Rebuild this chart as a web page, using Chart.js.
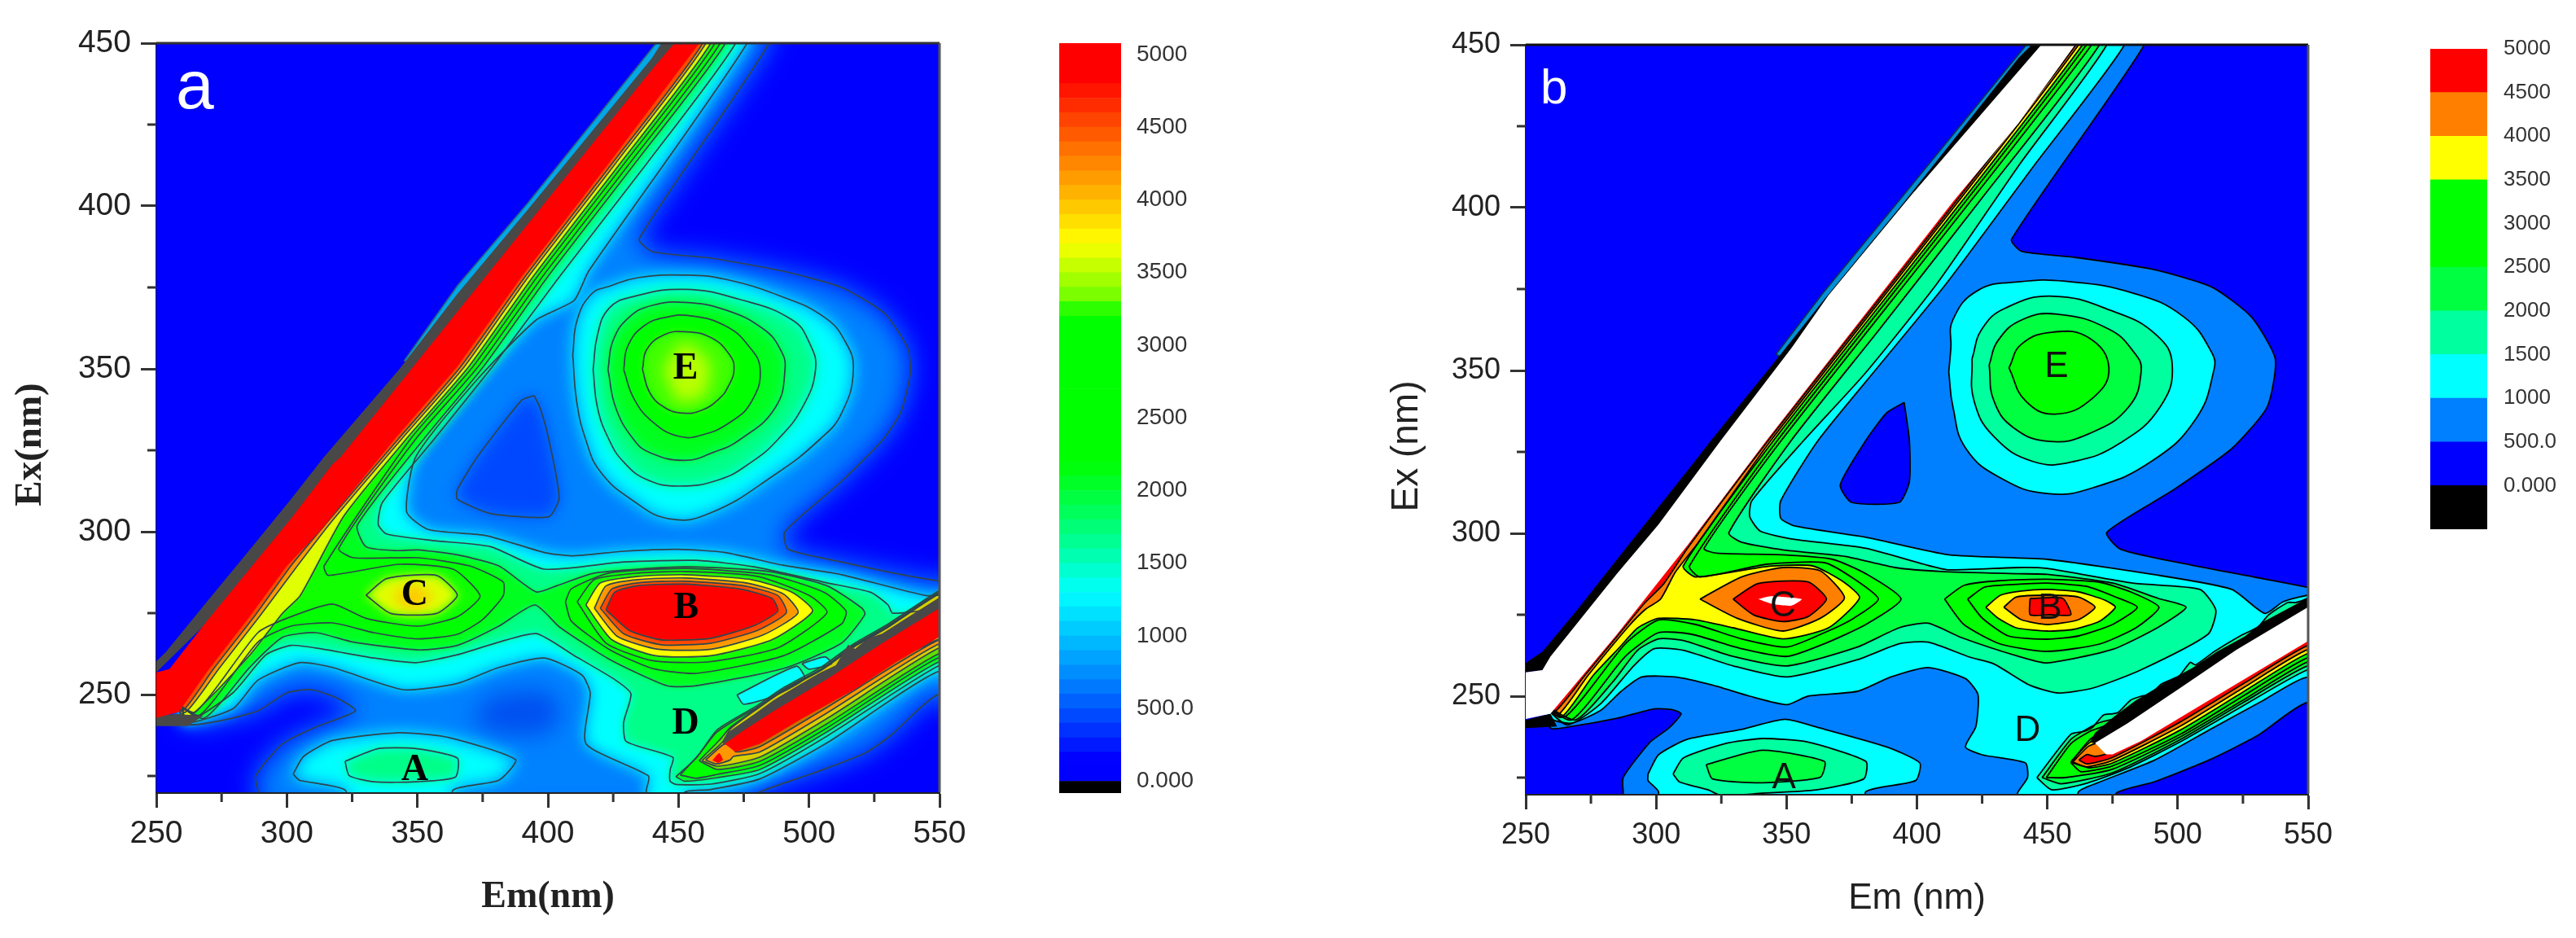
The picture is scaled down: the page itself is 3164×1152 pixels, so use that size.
<!DOCTYPE html>
<html><head><meta charset="utf-8">
<style>
html,body{margin:0;padding:0;background:#fff;width:3164px;height:1152px;overflow:hidden}
canvas{position:absolute;top:0;filter:blur(.7px)}
</style>
<script src="https://cdn.jsdelivr.net/npm/chart.js@4"></script>
</head><body>
<canvas id="pa" width="1200" height="1152" style="left:0"></canvas>
<canvas id="ca" width="220" height="1152" style="left:1280px"></canvas>
<canvas id="pb" width="1220" height="1152" style="left:1680px"></canvas>
<canvas id="cb" width="200" height="1152" style="left:2964px"></canvas>
<script>
/* axes */
const xTickValues=[250,300,350,400,450,500,550];
const yTickValues=[250,300,350,400,450];
const xMinorTicks=[275,325,375,425,475,525];
const yMinorTicks=[225,275,325,375,425];
const barTickValues=[0,500,1000,1500,2000,2500,3000,3500,4000,4500,5000];
const barTickLabels=['0.000','500.0','1000','1500','2000','2500','3000','3500','4000','4500','5000'];
const letterLabels=['A','B','C','D','E'];
const aLetterPos=[[349,226.8],[453,276.5],[349,280.5],[452.7,241],[452.7,350]];
const bLetterPos=[[349,224.7],[451,276.7],[348.6,277.5],[442.4,239.3],[453.5,351]];
const spineUp=[[256,250],[305,300],[356,350],[403,400],[453,450],[453,460]];
const spineRight=[[260,250],[309,300],[360,350],[407,400],[456,450],[456,460]];

/* panel a contours: [Em, Ex] */
const aL500=[[484.7,460],[484.7,450],[435,390],[440,386],[462.4,384],[490,380],[512.5,375],[529,367],[538,356],[538.7,348],[535,336.4],[528,328],[512.5,315.5],[490.8,300],[492,294.6],[512.5,290.7],[532.5,287.3],[550.4,284.8],[560,284],[560,244],[549.3,249.9],[531.4,237.5],[521.4,232],[501.4,225.8],[481,220],[470,214],[288.9,214],[288.9,220.7],[288,225],[298.4,234.9],[311,240],[326.3,245],[319,249],[309.5,251.5],[300,250.5],[288.9,245],[273,241.7],[262,241]];
const aHole500=[[394.7,341.8],[390,340.4],[373,323],[365.3,312.9],[365.3,310],[378,305.6],[400.3,304.6],[404.3,310.5],[400.3,328.5],[397,338]];
const aValley=[[370,243],[380,250],[400,251],[405,245],[400,238],[380,238]];
const aL1000=[[476.3,460],[476.3,450],[415.6,380],[410,371],[395.5,365],[373.2,347],[349.4,323],[345.9,306.1],[354.1,300.7],[376.4,298.8],[398.7,293.6],[409,292.6],[429,294],[450,294.6],[468,293.6],[490,289.7],[512.5,286.8],[544.8,280.4],[560,280],[560,252],[549.3,257],[507.2,235.3],[481.2,224.1],[462,220.8],[452.4,220],[452.4,214],[437.7,214],[437.7,220.7],[438.5,225],[414.6,234.9],[416.2,250.5],[413,256],[398.7,261.2],[381.2,258.3],[365.3,253.4],[344.6,251.5],[317.5,258.3],[304.8,259.8],[288.9,254.4],[279.3,245.6],[260,241.2]];
const aL1500=[[471.9,460],[471.9,450],[438,413.2],[404.5,378.4],[380,352],[356.5,328.5],[336.6,309],[335,302.2],[338.2,299.3],[355.7,297.3],[378,295.4],[398.7,288.5],[429,290.7],[456.8,291.2],[479,289.2],[506.9,284.3],[523.6,281.4],[530.3,277.5],[532,275],[545,276],[560,279],[560,259],[549.3,258.7],[507.2,237.4],[481.2,225.75],[462.4,222.5],[449,222.4],[446.8,223.4],[446.8,226.8],[447.9,230.7],[430,235.6],[429,241.4],[431.8,250.2],[425.6,254.6],[410,262],[395.6,268.7],[381.2,266.1],[365.3,262.2],[349.4,259.8],[333.4,261.2],[312.7,264.1],[301.6,265.1],[292,262.2],[279.3,250.5],[261.8,241.7]];
const aPocket1=[[472.4,249.9],[495.2,258.7],[498.3,254.9],[486.4,249.5],[475,247]];
const aPocket2=[[497.3,259.5],[506.1,261.6],[508.7,259.5],[499.9,257.8]];
const aL2000=[[468,460],[468,450],[433.4,413.2],[400,378.4],[375.3,350.7],[352.5,328.5],[327,302],[330.3,295.4],[341.4,294.2],[350.2,294.4],[365.3,292.9],[381.2,289.5],[395.5,281.5],[403.4,283.4],[417.8,287.3],[452.4,289.2],[484.7,287.8],[506.9,283.4],[520.3,276.5],[521.4,274.6],[512.5,265.8],[490.2,258],[456.8,252.7],[445.7,252.7],[423.4,260.9],[404.5,270.7],[395,277.5],[381.2,271],[365.3,265.1],[350.2,263.7],[325.5,266.1],[311.1,269],[298.4,267.6],[285.7,258.3],[268.2,242.7]];
const aL2500=[[466,460],[466,450],[431.4,413.2],[398,378.4],[373.3,350.7],[349.4,328.5],[319.9,294.9],[325.5,292],[350.2,292],[370,289.5],[382.8,284.6],[382.8,280.2],[374.8,272.9],[365.3,268.5],[350.2,267.1],[333.4,269],[317.5,272],[301.6,271],[288.9,266.1],[266.6,243.7]];
const aL2500B=[[406.7,278.5],[408.9,282.4],[423.4,287.3],[452.4,288.7],[484.7,286.8],[505.8,281.4],[514.2,275.6],[512.5,271.7],[490.2,261.9],[456.8,256.5],[440.1,258],[423.4,263.9],[408.9,272.6]];
const aL3000=[[464,460],[464,450],[429.4,413.2],[396,378.4],[371.3,350.7],[347.4,328.5],[314.3,289.5],[315.9,286.6],[343,290],[363.7,288.5],[374,280.2],[365.3,273.9],[350.2,271],[330.3,273.4],[317.5,277.8],[301.6,273.9],[288.9,269],[265,244.6]];
const aL3000B=[[411.2,278.5],[417.8,285.3],[434.5,287.3],[452.4,287.8],[480.2,286.3],[500.2,280.4],[506.9,275.1],[488,264.3],[461.3,260],[440.1,260.4],[422.3,265.8]];
const aL3500=[[462.4,460],[462.4,450],[427.8,413.2],[394.4,378.4],[369.7,350.7],[345.8,328.5],[322,305],[308.8,285.6],[304.8,280],[298.4,275],[285.7,262],[262,243]];
const aL3500C=[[330.3,280.5],[338.2,285.6],[357.3,286.6],[365.3,280.5],[357.3,274.9],[339.8,274.9]];
const aL3500B=[[414.5,277.5],[420.1,284.3],[434.5,286.3],[452.4,286.8],[478,285.3],[493.6,281.4],[501.4,275.6],[485.8,266.8],[462.4,261.9],[441.2,261.9],[424.5,266.8]];
const aL4000=[[460.5,460],[460.5,450],[426,413.2],[392.6,378.4],[368,350.7],[344,328.5],[317,303],[304,289.5],[290,274.5],[274,258],[261,244.5]];
const aL4000B=[[417.8,276.5],[422.3,283.4],[434.5,285.3],[452.4,285.8],[475.7,284.3],[490.2,280.9],[495.8,275.1],[482.4,268.3],[462.4,263.9],[442.3,263.9],[426.7,267.8]];
const aL4500=[[459.3,460],[459.3,450],[424.7,413.2],[391.3,378.4],[366.6,350.7],[342.7,328.5],[315,302.5],[302,290],[288,274.5],[272,258],[260,245]];
const aL4500B=[[420.1,276.5],[424.5,282.4],[434.5,284.3],[452.4,284.8],[474.6,283.4],[488,280.4],[491.3,275.1],[480.2,269.7],[462.4,265.8],[443.5,265.3],[429,268.7]];
const aL5000B=[[422.3,276],[425.6,281.4],[434.5,283.4],[452.4,283.9],[473.5,282.4],[485.8,279.5],[488,275.6],[479,271.2],[462.4,267.3],[443.5,266.8],[431.2,269.7]];
const aPeakC=[[340,280],[348,284],[356,280],[348,276]];
const aPeakE=[[444,350],[452,358],[462,352],[460,342],[450,340]];
const aE1=[[409.5,354.3],[411.2,365],[416.7,373],[423.4,375.3],[434.5,378],[452.4,378.8],[468,377.5],[490.2,372],[505.8,365.9],[513.6,358.8],[517,349.8],[512.5,336.4],[504,328.25],[486.9,317.5],[462.4,305.8],[446.8,303.9],[432.3,309.7],[420,318.5],[414.5,328.25],[411,340]];
const aE2=[[417.3,349.8],[419,360.5],[423.4,368.6],[432.3,372.1],[452.4,374.4],[473.5,371.3],[493.6,365],[500.2,357.9],[502.5,349.8],[497.5,338.2],[488,328.25],[478,321.4],[465.7,316],[450.1,314],[437.9,316],[429,321.4],[423.4,328.25],[419,338]];
const aE3=[[423,349.8],[425,358.8],[431.2,365.9],[440,369.5],[452.4,370.4],[468,368.1],[482.4,362.3],[489,356],[490.8,349.8],[487,338],[473.5,328.25],[463.5,324.4],[452.4,321.9],[439,324.3],[432.9,328.25],[426,338]];
const aE4=[[429,349.8],[430.6,357],[436.8,363.2],[445.7,365.9],[454.6,366.3],[468,363.2],[476.9,357],[481.3,349.8],[478,340],[470.2,333.8],[459,329.7],[450.1,329.3],[440,333.8],[432.9,340.9]];
const aE5=[[436.2,349.8],[437.9,356],[444.6,360.5],[452.4,361.4],[462.4,359.6],[469.6,354.3],[471.3,349.8],[469,344.5],[465.7,340.9],[459,337.3],[451.8,336.4],[444.6,338.2],[439,342.7]];
const aA1=[[302.4,225.6],[306.4,231],[317.5,235.9],[343,238.3],[362.1,236.8],[387.6,230],[381.2,223.7],[363.7,220.7],[362,212],[325.5,212],[322.3,220.7],[304.8,223.7]];
const aA2=[[322.3,229.5],[335,233.4],[349.4,233.4],[365.3,230.5],[364.5,224.6],[349.4,223.2],[333.4,223.2],[323.9,225.1]];
const aS2000=[[449,224.8],[456.8,230.5],[464.6,239],[473.9,243.7],[480.1,246.6],[490,252],[505,258.6],[517,265.5],[530,271.5],[549,281.5],[560,286],[560,259],[549.3,259.9],[507.2,238.7],[481.2,227],[465,224.5],[452.4,223.4]];
const aS2500=[[450.7,225.3],[457.9,231.7],[464.6,238.4],[473.9,243.2],[480,246],[490,251.5],[505,258],[517,265],[530,271],[549,281],[560,285],[560,260],[549.3,261.2],[507.2,239.9],[481.2,228.25],[465,225.5],[456.8,224.3]];
const aS3000=[[457.9,229.7],[465.7,236],[470,240],[480,245.8],[490,251.2],[505,257.8],[517,264.7],[530,270.7],[549,280.7],[560,284],[560,262],[549.3,262.4],[507.2,241.2],[481.2,229.5],[465,227]];
const aS3500=[[459,229.7],[467,235.5],[470,239.5],[480,245.5],[490,251],[505,257.6],[517,264.5],[530,270.5],[549,280.5],[560,283],[560,264],[549.3,264.1],[507.2,242.8],[481.2,230.8],[465,228]];
const aS4000=[[460.4,229.9],[466.1,234],[470,236],[500,250],[560,270],[560,265],[549.3,265.35],[507.2,244.5],[481.2,232.4],[471,231],[469.8,229.9],[464.6,228.7]];
const aS4500=[[470,235],[500,249],[560,270],[560,266],[549.3,266.6],[507.2,246.2],[481.2,234],[472,232.4]];
const aS5000=[[463,229.8],[465.6,232],[467,230],[465.2,229]];
const aHalo=[[441.5,460],[441.5,450],[392.4,401],[365.3,375.5],[345,352.5],[352,350],[453,450],[453,460]];
const aGray=[[443.5,460],[443.5,450],[439.8,445.4],[392.4,399],[365.3,373],[343,349.8],[314.3,323],[301.6,310],[285.7,294.4],[269.7,278.8],[253.8,263.2],[250,260.2],[240,258],[240,256.8],[250,256.8],[305,300],[356,350],[403,400],[453,450],[453,460]];
const aGrayFoot=[[240,243],[258,244],[268,243.5],[262,240.3],[240,240.3]];
const aRed=[[448.5,460],[448.5,450],[439.8,441.8],[320.7,323],[317.5,320.7],[301.6,304],[285.7,288.5],[269.7,272.9],[255,257.8],[250,256.8],[240,256.8],[240,242.9],[250,242.9],[258.6,244.6],[269.7,257.3],[285.7,273.9],[300,289.5],[312.7,300.2],[341.4,328.5],[365.3,350.7],[390,378.4],[423.4,413.2],[458,450],[458,460]];
const aGraySecond=[[466.6,235.3],[468.7,238.25],[479.1,244],[486.4,248.25],[496.8,253.25],[504,256.6],[510.3,259],[515,265.3],[517.6,264],[522.8,267.4],[528,268.7],[538.4,274],[549.3,279.5],[560,285],[560,272],[549.3,272],[500,248],[467.7,234.5]];
const aRedSecond=[[467.7,234.9],[475,239],[486.4,244.9],[507.2,254.9],[528,265.75],[549.3,276.2],[560,282],[560,272],[549.3,267.4],[533.2,259.9],[517.6,251.6],[496.8,242.4],[481.2,234.9],[471.8,232.4]];

/* panel b contours */
const bL500=[[487.2,460],[487.2,450],[436.3,390.3],[440.1,386.6],[459.9,384.8],[490.3,381.1],[513.1,375.6],[528.3,366.4],[537.4,353.5],[534.3,338.8],[520.7,326],[497.9,313.1],[472.8,300.3],[478.1,295.1],[505.4,290.2],[529.8,286.5],[550,283.4],[560,282],[560,242],[549.5,248],[530.8,238],[512,230.4],[491.2,223.75],[476.7,220.4],[472,214],[287.4,214],[287.4,220],[287.4,225.1],[297.7,235.9],[304.9,240.2],[309.6,244.6],[306.5,245.8],[299.3,246.1],[285,243.2],[267.5,240.7],[259.5,240.2]];
const bHole500=[[395.1,340.2],[388.4,337],[380.4,328.5],[370.6,314.9],[374.9,309.5],[393.2,309.5],[397.1,315.9],[397.1,328.5]];
const bL1000=[[479.6,460],[479.6,450],[445,413],[411.4,376.8],[385,351],[362.1,328.5],[347.8,310],[347.8,304.6],[353.4,302.2],[380.4,298.8],[412.2,293.4],[450,292],[490.3,287.4],[520.7,282.8],[533.4,275.4],[540.4,279],[550,281],[560,281],[560,250],[549.5,255.8],[532.9,248.75],[512,239.6],[491.2,230.4],[470.4,223.75],[462.1,220.8],[459,214],[438,214],[438.6,220.3],[442.4,225],[441.6,229.5],[425,232],[418.6,234.4],[422.6,240.7],[423.4,250.5],[418.6,255.4],[404.3,258.8],[390,255.9],[377.2,251.5],[358.2,250],[350.2,247.4],[335.9,250],[321.6,253.4],[307.3,255.9],[294.5,255.9],[286.6,251.5],[278.7,245.6],[267.5,241.7],[260,243]];
const bL1500=[[472.8,460],[472.8,450],[440,414],[408,377],[380,349],[356.6,328.5],[336.7,310],[335.9,305.1],[339.9,300.7],[351.8,298.3],[380.4,295.4],[402.7,290.5],[412.2,288.8],[439,289.5],[450,289.2],[482.7,284.7],[508.5,282.8],[514.6,276.4],[511.6,269],[485.7,258],[467.5,252.5],[453.8,251],[443.2,253.4],[429.5,259.9],[420.2,262],[404.3,266.6],[393.2,266.1],[377.2,261.2],[350.2,255.9],[329.5,259.3],[310.4,264.1],[299.3,264.6],[291.4,259.3],[278.6,247.6],[265.9,241.2]];
const bL2000=[[470,460],[470,450],[425,403],[385,362],[351.8,328.5],[327.9,300.2],[332.7,297.3],[348.6,294.9],[372.5,292.9],[391.6,289.5],[409.1,288.3],[439,287.6],[450,287.4],[475.1,284.7],[492.6,280],[503.2,277.3],[492.6,271.2],[475.1,264.4],[450,260.2],[439,262.2],[417,268],[404.3,272.4],[393.2,271],[377.2,265.1],[350.2,259.3],[329.5,262.2],[310.4,267.1],[300.9,267.6],[292.9,264.1],[283.4,254.4],[269.1,242.7]];
const bL2500=[[467,460],[467,450],[348,328.5],[318.4,295.4],[323.2,293.9],[348.6,293.4],[367.7,292],[380.4,287.6],[393.9,279.8],[380.4,272],[364.5,266.1],[350.2,262.2],[332.7,264.6],[313.6,269],[300.9,269.5],[288.2,262.2],[267.5,242.7]];
const bL3000=[[465,460],[465,450],[346.5,328.5],[312.8,290],[316.8,286.6],[342.3,290.5],[364.5,291],[375.7,286.1],[385.2,279.8],[375.7,273.9],[364.5,269.5],[350.2,265.1],[332.7,267.6],[315.2,272],[300.9,273.4],[288.2,266.1],[265.1,243.7]];
const bL3500=[[463.5,460],[463.5,450],[345,328.5],[310.4,290],[315.2,286.6],[342.3,289.8],[360,290],[372,285],[378,280.2],[366.1,271],[348.6,267.6],[329.5,271],[315.2,273.4],[300.9,273.9],[293,271],[286,265],[276,256.5],[263.5,243.5]];
const bL4000R=[[462,460],[462,450],[344,328.5],[316,297],[307.3,288],[301.7,279.8],[296.1,276.8],[289.5,271.5],[274,256.5],[262,244]];
const bL4500R=[[461,460],[461,450],[343,328.5],[312,295.4],[303,284.6],[295.5,278.5],[288.3,271.5],[272.8,256.5],[260.5,244.8]];
const bC4000=[[316.8,279.8],[332.7,286.6],[348.6,289.5],[362.9,288.5],[372.2,280.2],[362.9,273.9],[348.6,270],[331.1,273.9]];
const bC4500=[[329.5,279.8],[339.1,284.6],[358.2,285.1],[365.3,279.8],[358.2,274.4],[348.6,272.9],[337.5,274.9]];
const bC5000=[[339.1,279.8],[343.8,280.7],[355.8,279.8],[351.9,277.8],[344.6,278.3]];
const bB2500=[[410.6,279.8],[418,284],[432,285.5],[450,285.9],[470,285],[482,282],[492.8,277.3],[484,271],[470,266],[450,263.75],[432,266],[418,272]];
const bB3000=[[419.4,279.8],[426,283.5],[437,284.3],[450,284.7],[465,283.7],[476,280.5],[484.5,277.3],[475,272],[462,268.5],[450,267.5],[435,268.5],[425,274]];
const bB3500=[[426.4,277.3],[432,281],[440,282.3],[450,282.8],[462,282],[472,279.5],[476.1,277.3],[470,273],[460,270.5],[450,270],[438,271],[431,274]];
const bB4000=[[433.3,277.3],[438,280.4],[450,281],[462,280.4],[468.3,277.3],[462,273.5],[450,272],[440,273.5]];
const bB4500=[[443.4,280],[455.9,280],[459,275],[450.8,275],[443.4,275]];
const bE1=[[412.2,349.6],[413,356.7],[413.8,365.6],[423.4,374.6],[439,377.2],[456.8,377.4],[482.7,373.8],[502.4,366.4],[513.1,355.4],[513.8,349.9],[507,335.2],[490.3,322.3],[467.5,314],[450,312.2],[432.5,316.8],[418.8,326],[413.8,338.8]];
const bE2=[[421.1,353.5],[424.9,362.7],[434,369.2],[452.3,372.8],[475.1,368.2],[491.8,360.9],[497.9,351.7],[493.3,338.9],[478.1,327.8],[459.9,322],[444.7,322],[429.5,329.7],[421.9,340.7]];
const bE3=[[427.7,351.7],[431,359.1],[440.1,365.5],[453.8,367.3],[473.6,362.7],[483.4,355.4],[486,349.9],[481.2,338.8],[466,330.6],[450.8,328.2],[437.1,332.4],[429.5,340.7]];
const bE4=[[435.3,350.8],[440.1,358.1],[452.3,361.8],[466,360],[473.6,350.8],[467.5,341.6],[453,336.6],[441.6,340.7]];
const bA1=[[296.9,226.1],[300.9,232],[312,236.8],[332.7,239.8],[349.4,242.9],[362.9,240.2],[388.4,234.4],[401.1,229.5],[399.5,224.1],[380.4,220.7],[380,212],[301,212],[300.9,220.7],[296.9,224.1]];
const bA2=[[306.5,226.1],[310.4,231],[326.3,235.4],[340.7,237],[358.2,235.9],[380.4,230],[379.6,224.6],[361.3,221.2],[340.7,220.2],[325,219.5],[320,221.2],[308.9,223.7]];
const bA3=[[319.2,229],[340.7,233.4],[364.5,230],[362.9,225.1],[340.7,223.4],[321.6,224.6]];
const bS1500=[[446,225],[459,238.3],[464.2,239.2],[467.3,240.4],[471.5,244.2],[475.1,244.6],[477.2,245],[481.9,248.75],[486,250],[489.1,250.4],[493.8,253.75],[500.6,256.25],[504.8,260.4],[506.8,259.6],[514.1,263.75],[524.5,268.75],[530.8,271.25],[534.9,275],[542.2,278.75],[545.3,278.75],[549.5,280],[560,285],[560,258],[549.5,258],[522.4,245.8],[501.6,236.25],[480.8,227.9],[465.2,223.3],[451.7,221.25]];
const bS2000=[[448,225],[459,236.7],[466.3,240.4],[470.4,242],[480,244],[505,255],[549,277],[560,280],[560,259],[549.5,259.2],[525,248],[501,236.7],[475,226.5],[455.3,223.1]];
const bS2500=[[449.6,225],[459,235.4],[466.3,239.2],[470.4,240.4],[480,243.5],[505,254.5],[549,276],[560,276],[560,260],[549.5,260.4],[525,248.75],[501,237.5],[475,227.6],[456.8,225]];
const bS3000=[[459,229.6],[466.8,237],[480,243],[505,254],[549,275],[560,275],[560,262],[549.5,261.7],[525,250],[501,238.3],[475,228.6],[462.9,226.8]];
const bS3500=[[459.2,230],[465.7,235.4],[480,242.5],[505,253.5],[549,274],[560,274],[560,263],[549.5,263],[525,251.25],[501,239.6],[475,229.5],[466,228]];
const bS4000=[[459.5,229.6],[465.7,234.6],[470,236],[505,253],[549,273],[560,273],[560,264],[549.5,264.2],[525,252.5],[501,240.8],[475,230.3],[465.2,228.3]];
const bS4500=[[462.1,230.4],[465.2,232.1],[468.3,231.5],[475,233],[505,252],[549,272],[560,272],[560,265],[549.5,265.4],[525,253.75],[501,242.1],[475,231.2],[465.2,229.2]];
const bHalo=[[442,460],[442,450],[394,403],[364,373.8],[346,355],[356,350],[453,450],[453,460]];
const bBlack=[[444,460],[444,450],[439,446],[394.7,401.3],[364.5,371.9],[348.6,355.8],[321,328.5],[316.5,323.8],[285,292],[269.1,275.9],[256.4,263.7],[250,260.2],[240,260],[240,257.3],[250,257.3],[256.4,258],[305,300],[356,350],[403,400],[453,450],[453,460]];
const bBlackFoot=[[240,242.7],[250,242.7],[259.5,244.6],[262,240.7],[250,240.2],[240,240.2]];
const bWhite=[[447.7,460],[447.7,450],[398,404],[366,373],[352,357],[324.8,328.5],[300.9,302.7],[285,287.6],[259.5,262.2],[256.4,258],[250,257.3],[240,257.3],[240,243],[250,243],[259.5,244.6],[285,269],[300.9,285.1],[312,296.3],[342.3,328.5],[382,369.2],[414,402],[439,426],[460.6,450],[460.6,460]];
const bBlackSecond=[[466.3,235.8],[468.3,238.75],[475.6,243.75],[484,248.75],[494.4,253.75],[505.8,258.75],[515.2,263.75],[525.6,268.3],[532.9,272.9],[549.5,280],[560,285],[560,276],[549.5,272],[468.3,235.5]];
const bWhiteSecond=[[468.3,235.6],[480.8,241.7],[501.6,252.9],[522.4,264.2],[549.5,277.1],[560,283],[560,272],[549.5,266.7],[527.7,256.25],[506.8,246.25],[486,236.25],[475,232.1],[472.5,232.1]];

/* colour bars */
const gradientEdges=[-81,0,100,200,300,400,500,600,700,800,900,1000,1100,1200,1300,1400,1500,1600,1700,1800,1900,2000,2100,2200,2300,2400,2500,2600,2700,2800,2900,3000,3100,3200,3300,3400,3500,3600,3700,3800,3900,4000,4100,4200,4300,4400,4500,4600,4700,4800,4900,5078];
const gradientStops=[[0,[0,0,255]],[144,[0,0,255]],[680,[0,128,255]],[1297,[0,255,255]],[1710,[0,255,128]],[2200,[0,255,0]],[3190,[0,255,0]],[3357,[128,255,0]],[3707,[255,255,0]],[4283,[255,128,0]],[4840,[255,0,0]],[5100,[255,0,0]]];
const stepEdges=[-500,0,500,1000,1500,2000,2500,3500,4000,4500,5000];
const stepColours=['#000000','#0000ff','#0080ff','#00ffff','#00ff9f','#00ff40','#00ff00','#ffff00','#ff8000','#ff0000'];

function rampColour(v){
  for(let i=1;i<gradientStops.length;i++){
    const [a,ca]=gradientStops[i-1],[b,cb]=gradientStops[i];
    if(v<=b){const t=Math.max(0,(v-a)/(b-a));return 'rgb('+ca.map((c,k)=>Math.round(c+(cb[k]-c)*t)).join(',')+')';}
  }
  return 'rgb(255,0,0)';
}

function layer(points,fill,o={}){
  const pts=points.map(([x,y])=>({x,y}));
  if(o.open!==true)pts.push({...pts[0]});
  return {data:pts,polyFill:fill,polyBlur:o.blur||0,overlay:!!o.overlay,
    borderColor:o.line===false?'transparent':(o.lineColor||'#2f444c'),
    borderWidth:o.line===false?0:(o.width||1.7),
    tension:o.tension===undefined?0.2:o.tension,pointRadius:0,fill:false};
}
const contourPlugin={
  id:'contourFill',
  beforeDatasetsDraw(chart){
    const ctx=chart.ctx,a=chart.chartArea;
    ctx.save();ctx.beginPath();ctx.rect(a.left,a.top,a.width,a.height);ctx.clip();
    ctx.fillStyle=chart.options.plugins.contourFill.background;
    ctx.fillRect(a.left,a.top,a.width,a.height);
    chart.data.datasets.forEach((d,i)=>{
      if(d.overlay)return;
      const m=chart.getDatasetMeta(i);
      ctx.filter=d.polyBlur?'blur('+d.polyBlur+'px)':'none';
      if(d.polyFill){ctx.fillStyle=d.polyFill;ctx.beginPath();m.dataset.path(ctx);ctx.closePath();ctx.fill();}
    });
    ctx.filter='none';ctx.restore();
  },
  beforeDatasetDraw(chart,args){
    const d=chart.data.datasets[args.index];
    if(!d.overlay)return;
    const ctx=chart.ctx,a=chart.chartArea;
    ctx.save();ctx.beginPath();ctx.rect(a.left,a.top,a.width,a.height);ctx.clip();
    ctx.fillStyle=d.polyFill;ctx.beginPath();args.meta.dataset.path(ctx);ctx.closePath();ctx.fill();ctx.restore();
  }
};
function decorPlugin(c){return {id:'decor',afterDatasetsDraw(chart){
  const ctx=chart.ctx,a=chart.chartArea,x=chart.scales.x,y=chart.scales.y;
  ctx.save();
  ctx.strokeStyle='#333';ctx.lineWidth=3;
  xMinorTicks.forEach(v=>{const p=x.getPixelForValue(v);ctx.beginPath();ctx.moveTo(p,a.bottom);ctx.lineTo(p,a.bottom+12);ctx.stroke();});
  yMinorTicks.forEach(v=>{const p=y.getPixelForValue(v);ctx.beginPath();ctx.moveTo(a.left,p);ctx.lineTo(a.left-11,p);ctx.stroke();});
  ctx.strokeStyle=c.frameTop;ctx.beginPath();ctx.moveTo(a.left,a.top);ctx.lineTo(a.right,a.top);ctx.stroke();
  ctx.strokeStyle=c.frameRight;ctx.beginPath();ctx.moveTo(a.right,a.top);ctx.lineTo(a.right,a.bottom);ctx.stroke();
  ctx.textAlign='center';ctx.textBaseline='middle';
  ctx.fillStyle=c.letterColor;ctx.font=c.letterFont;
  letterLabels.forEach((t,i)=>ctx.fillText(t,x.getPixelForValue(c.letters[i][0]),y.getPixelForValue(c.letters[i][1])));
  ctx.fillStyle='#fff';ctx.font=c.tagFont;ctx.textAlign='left';ctx.textBaseline='alphabetic';
  ctx.fillText(c.tag,c.tagX,c.tagY);
  ctx.fillStyle='#222';ctx.font=c.titleFont;ctx.textAlign='center';ctx.textBaseline='middle';
  ctx.translate(c.yTitleX,c.yTitleY);ctx.rotate(-Math.PI/2);ctx.fillText(c.yTitle,0,0);
  ctx.restore();
}};}
function panel(id,c){
  const n=c.layers.length;
  c.layers.forEach((d,i)=>{d.order=n-i;});
  return new Chart(document.getElementById(id),{
    type:'line',
    data:{datasets:c.layers},
    options:{responsive:false,animation:false,devicePixelRatio:1,events:[],
      parsing:{xAxisKey:'x',yAxisKey:'y'},
      elements:{line:{capBezierPoints:false}},
      layout:{padding:{left:0,top:c.top,right:c.right,bottom:0}},
      plugins:{legend:{display:false},tooltip:{enabled:false},contourFill:{background:'#0000ff'}},
      scales:{
        x:{type:'linear',min:250,max:550,
          afterBuildTicks:s=>{s.ticks=xTickValues.map(v=>({value:v}));},
          afterFit:s=>{s.height=c.xHeight;},
          grid:{drawOnChartArea:false,tickLength:19,tickWidth:3,tickColor:'#333'},
          border:{color:'#222',width:3},
          ticks:{font:{family:'Liberation Sans',size:c.tickSize},color:'#222',padding:c.xPad,maxRotation:0,autoSkip:false,callback:v=>String(v)},
          title:{display:true,text:c.xTitle,color:'#222',font:c.xTitleFont,padding:{top:0,bottom:c.xTitleBottom}}},
        y:{type:'linear',min:220,max:450,
          afterBuildTicks:s=>{s.ticks=yTickValues.map(v=>({value:v}));},
          afterFit:s=>{s.width=c.yWidth;},
          grid:{drawOnChartArea:false,tickLength:19,tickWidth:3,tickColor:'#333'},
          border:{color:'#222',width:3},
          ticks:{font:{family:'Liberation Sans',size:c.tickSize},color:'#222',padding:12,autoSkip:false,callback:v=>String(v)}}
      }},
    plugins:[contourPlugin,decorPlugin(c)]
  });
}
function colourBar(id,edges,colours,c){
  const datasets=colours.map((col,i)=>({data:[[edges[i],edges[i+1]]],backgroundColor:col,grouped:false,barPercentage:1,categoryPercentage:1,borderWidth:0}));
  return new Chart(document.getElementById(id),{
    type:'bar',
    data:{labels:['scale'],datasets},
    options:{responsive:false,animation:false,devicePixelRatio:1,events:[],
      layout:{padding:{left:c.left,top:c.top,bottom:c.bottom,right:0}},
      plugins:{legend:{display:false},tooltip:{enabled:false}},
      scales:{
        x:{display:false},
        y:{type:'linear',position:'right',min:c.min,max:c.max,
          afterBuildTicks:s=>{s.ticks=barTickValues.map(v=>({value:v}));},
          afterFit:s=>{s.width=c.axisWidth;},
          grid:{display:false},border:{display:false},
          ticks:{font:{family:'Liberation Sans',size:c.size},color:'#333',padding:c.pad,autoSkip:false,
            callback:v=>barTickLabels[barTickValues.indexOf(v)]}}
      }}
  });
}

/* level colours */
const aC={l500:'#0082ff',l1000:'#00ffff',l1500:'#00ff88',l2000:'#00ff20',l2500:'#00ff00',l3000:'#10ff00',l3500:'#e0ff00',l4000:'#ff9800',l4500:'#ff4800',l5000:'#ff0000'};
const bC={l500:'#0080ff',l1000:'#00ffff',l1500:'#00ff9f',l2000:'#00ff40',l2500:'#00ff00',l3000:'#00ff00',l3500:'#ffff00',l4000:'#ff8000',l4500:'#ff0000',l5000:'#ffffff'};
const round=0.45;

const aLayers=[
 layer([...aL500,...spineRight],aC.l500,{blur:16}),
 layer(aHole500,'#0048ff',{blur:10}),
 layer(aValley,'#0050f0',{blur:14,line:false}),
 layer([...aL1000,...spineRight],aC.l1000,{blur:9}),
 layer(aA1,aC.l1000,{blur:10}),
 layer(aE1,aC.l1000,{blur:10,tension:round}),
 layer([...aL1500,...spineRight],aC.l1500,{blur:6}),
 layer(aA2,aC.l1500,{blur:7}),
 layer(aE2,aC.l1500,{blur:8,tension:round}),
 layer(aPocket1,aC.l1000,{blur:1}),
 layer(aPocket2,aC.l1000,{blur:1}),
 layer([...aL2000,...spineUp],aC.l2000,{blur:3}),
 layer(aS2000,aC.l2000,{blur:1}),
 layer(aE3,aC.l2000,{blur:7,tension:round}),
 layer([...aL2500,...spineUp],aC.l2500,{blur:3}),
 layer(aL2500B,aC.l2500,{blur:2}),
 layer(aS2500,aC.l2500,{blur:0}),
 layer(aE4,aC.l2500,{blur:5,tension:round}),
 layer([...aL3000,...spineUp],aC.l3000,{blur:3}),
 layer(aL3000B,aC.l3000,{blur:1}),
 layer(aS3000,'#60e000',{blur:0}),
 layer(aE5,'#40ff00',{blur:5,tension:round}),
 layer(aPeakE,'#b8ff00',{blur:9,line:false}),
 layer([...aL3500,...spineUp],aC.l3500,{blur:1}),
 layer(aL3500C,aC.l3500,{blur:6}),
 layer(aPeakC,'#ffc800',{blur:8,line:false}),
 layer(aL3500B,'#ffff00',{blur:1}),
 layer(aS3500,'#d8d000',{blur:0}),
 layer([...aL4000,...spineUp],aC.l4000,{blur:1}),
 layer(aL4000B,aC.l4000,{blur:1}),
 layer(aS4000,aC.l4000,{blur:0}),
 layer(aS4500,'#c87000',{blur:0}),
 layer([...aL4500,...spineUp],aC.l4500,{blur:1}),
 layer(aL4500B,aC.l4500,{blur:1}),
 layer(aL5000B,aC.l5000,{blur:1}),
 layer(aS5000,aC.l5000,{line:false}),
 layer(aHalo,'#00a8e8',{overlay:true,tension:0,lineColor:'#2a6080'}),
 layer(aGray,'#484848',{overlay:true,tension:0,line:false}),
 layer(aGrayFoot,'#484848',{overlay:true,tension:0,line:false}),
 layer(aRed,'#ff0000',{overlay:true,tension:0,line:false}),
 layer(aGraySecond,'#484848',{overlay:true,tension:0,line:false}),
 layer(aRedSecond,'#ff0000',{overlay:true,tension:0,line:false})
];
const lb={lineColor:'#000',width:1.8};
const lr={lineColor:'#000',width:1.8,tension:round};
const bLayers=[
 layer([...bL500,...spineUp],bC.l500,lb),
 layer(bHole500,'#0000ff',lb),
 layer([...bL1000,...spineUp],bC.l1000,lb),
 layer(bA1,bC.l1000,lb),
 layer(bE1,bC.l1000,lr),
 layer([...bL1500,...spineUp],bC.l1500,lb),
 layer(bA2,bC.l1500,lb),
 layer(bE2,bC.l1500,lr),
 layer(bS1500,bC.l1500,lb),
 layer([...bL2000,...spineUp],bC.l2000,lb),
 layer(bA3,bC.l2000,lb),
 layer(bE3,bC.l2000,lr),
 layer(bS2000,bC.l2000,lb),
 layer([...bL2500,...spineUp],bC.l2500,lb),
 layer(bB2500,bC.l2500,lb),
 layer(bE4,bC.l2500,lr),
 layer(bS2500,bC.l2500,lb),
 layer([...bL3000,...spineUp],bC.l3000,lb),
 layer(bB3000,bC.l3000,lb),
 layer(bS3000,bC.l3000,lb),
 layer([...bL3500,...spineUp],bC.l3500,lb),
 layer(bB3500,bC.l3500,lb),
 layer(bS3500,bC.l3500,lb),
 layer([...bL4000R,...spineUp],bC.l4000,lb),
 layer(bC4000,bC.l4000,lb),
 layer(bB4000,bC.l4000,lb),
 layer(bS4000,bC.l4000,lb),
 layer([...bL4500R,...spineUp],bC.l4500,lb),
 layer(bC4500,bC.l4500,lb),
 layer(bB4500,bC.l4500,lb),
 layer(bS4500,bC.l4500,lb),
 layer(bC5000,bC.l5000,{line:false}),
 layer(bHalo,'#0090d8',{overlay:true,tension:0,lineColor:'#103050'}),
 layer(bBlack,'#000000',{overlay:true,tension:0,line:false}),
 layer(bBlackFoot,'#000000',{overlay:true,tension:0,line:false}),
 layer(bWhite,'#ffffff',{overlay:true,tension:0,line:false}),
 layer(bBlackSecond,'#000000',{overlay:true,tension:0,line:false}),
 layer(bWhiteSecond,'#ffffff',{overlay:true,tension:0,line:false})
];

panel('pa',{layers:aLayers,top:53,right:46,xHeight:179,yWidth:192,tickSize:39,xPad:9,
  xTitle:'Em(nm)',xTitleFont:{family:'Liberation Serif',size:46,weight:'bold'},xTitleBottom:22,
  yTitle:'Ex(nm)',titleFont:'bold 47px "Liberation Serif"',yTitleX:38,yTitleY:546,
  letters:aLetterPos,letterColor:'#000',letterFont:'bold 46px "Liberation Serif"',
  tag:'a',tagFont:'84px "Liberation Sans"',tagX:216,tagY:133,frameTop:'#333',frameRight:'#555'});
panel('pb',{layers:bLayers,top:55,right:65,xHeight:177,yWidth:194,tickSize:36,xPad:10,
  xTitle:'Em (nm)',xTitleFont:{family:'Liberation Sans',size:44},xTitleBottom:22,
  yTitle:'Ex (nm)',titleFont:'46px "Liberation Sans"',yTitleX:48,yTitleY:548,
  letters:bLetterPos,letterColor:'#111',letterFont:'44px "Liberation Sans"',
  tag:'b',tagFont:'60px "Liberation Sans"',tagX:212,tagY:127,frameTop:'#111',frameRight:'#555'});
colourBar('ca',gradientEdges,gradientEdges.slice(0,-1).map((e,i)=>i===0?'#000000':rampColour(e+50)),
  {left:21,top:53,bottom:178,min:-81,max:5078,axisWidth:123,size:28,pad:11});
colourBar('cb',stepEdges,stepColours,{left:21,top:60,bottom:502,min:-500,max:5000,axisWidth:109,size:26,pad:12});
</script>
</body></html>
